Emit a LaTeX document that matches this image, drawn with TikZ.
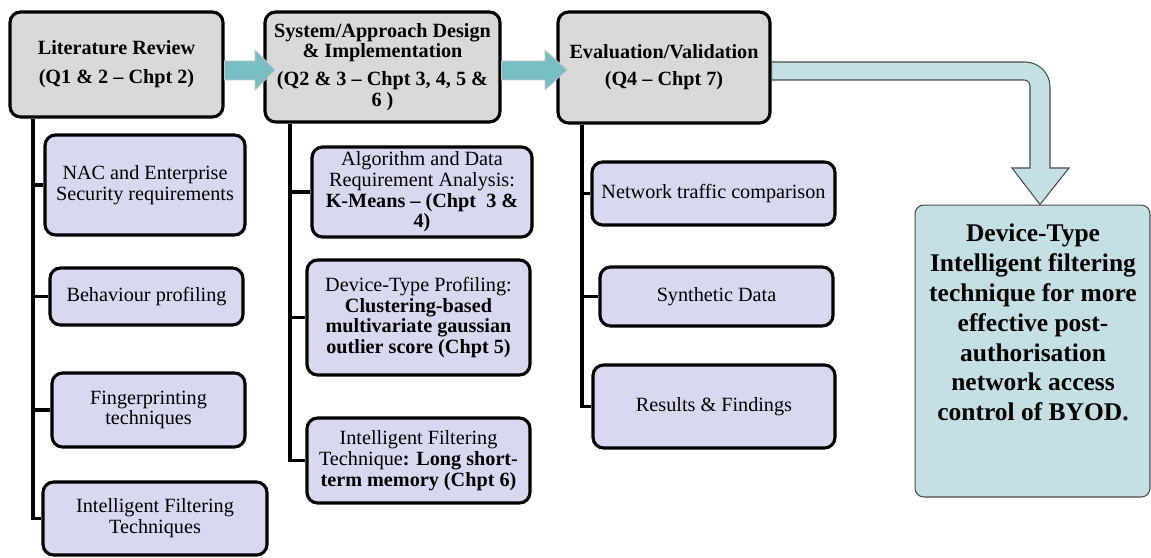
\documentclass[tikz,border=0pt]{standalone}
\usepackage{fontspec}
\setmainfont{LiberationSerif}[Extension=.ttf, UprightFont=*-Regular, BoldFont=*-Bold,
  ItalicFont=*-Italic, BoldItalicFont=*-BoldItalic]
\usepackage{xcolor}
\usepackage{tikz}
\usetikzlibrary{positioning,calc}

\definecolor{headgray}{RGB}{217,217,217}
\definecolor{lavender}{RGB}{216,216,240}
\definecolor{tealdark}{RGB}{120,190,196}
\definecolor{teallight}{RGB}{196,224,228}

\tikzset{
  phase/.style={draw=black, line width=1.8pt, fill=headgray, rounded corners=6pt,
    align=center, inner sep=2pt, font=\fontsize{11.5}{11.5}\selectfont\bfseries},
  task/.style={draw=black, line width=1.8pt, fill=lavender, rounded corners=6pt,
    align=center, inner sep=2pt, font=\fontsize{11.5}{11.8}\selectfont},
  tree/.style={line width=1.9pt, draw=black},
  flow/.style={fill=tealdark, draw=gray!45, line width=0.4pt},
  outflow/.style={fill=teallight, draw=black!70, line width=0.6pt},
  goalbox/.style={fill=teallight, draw=black!70, line width=0.6pt, rounded corners=5pt}
}

\begin{document}
\begin{tikzpicture}[x=0.02cm, y=-0.02cm]
    \useasboundingbox (0,0) rectangle (1151,557);

    % Phases
    \node[phase, minimum width=4.26cm, minimum height=2.1cm] (lit) at (116.5,64.5)
        {Literature Review\\[5pt](Q1 \& 2 – Chpt 2)};
    \node[phase, minimum width=4.7cm, minimum height=2.2cm] (design) at (382.5,67)
        {System/Approach Design\\\& Implementation\\[4.5pt](Q2 \& 3 – Chpt 3, 4, 5 \&\\6 )};
    \node[phase, minimum width=4.24cm, minimum height=2.22cm] (eval) at (664,67.5)
        {Evaluation/Validation\\[4pt](Q4 – Chpt 7)};

    % Literature review tasks
    \node[task, minimum width=4cm, minimum height=2cm] (nac) at (145,185)
        {NAC and Enterprise\\Security requirements};
    \node[task, minimum width=3.86cm, minimum height=1.14cm] (behav) at (146.5,296.5)
        {Behaviour profiling};
    \node[task, minimum width=3.86cm, minimum height=1.48cm] (finger) at (148.5,410)
        {Fingerprinting\\techniques};
    \node[task, minimum width=4.48cm, minimum height=1.46cm] (iftech) at (155,518.5)
        {Intelligent Filtering\\Techniques};

    % Design tasks
    \node[task, minimum width=4.4cm, minimum height=1.8cm] (kmeans) at (422,192)
        {Algorithm and Data\\Requirement Analysis:\\\textbf{K-Means – (Chpt~~3 \&}\\\textbf{4)}};
    \node[task, minimum width=4.46cm, minimum height=2.3cm] (profiling) at (418.5,317.5)
        {Device-Type Profiling:\\\textbf{Clustering-based}\\\textbf{multivariate gaussian}\\\textbf{outlier score (Chpt 5)}};
    \node[task, minimum width=4.46cm, minimum height=1.7cm] (lstm) at (418.5,460.5)
        {Intelligent Filtering\\Technique\textbf{: Long short-}\\\textbf{term memory (Chpt 6)}};

    % Evaluation tasks
    \node[task, minimum width=4.86cm, minimum height=1.26cm] (traffic) at (713.5,193.5)
        {Network traffic comparison};
    \node[task, minimum width=4.66cm, minimum height=1.18cm] (synth) at (716.5,296.5)
        {Synthetic Data};
    \node[task, minimum width=4.84cm, minimum height=1.66cm] (results) at (714,406.5)
        {Results \& Findings};

    % Tree lines
    \draw[tree] (lit.south -| 33,0) |- (iftech.west);
    \draw[tree] (33,0 |- nac.west) -- (nac.west);
    \draw[tree] (33,0 |- behav.west) -- (behav.west);
    \draw[tree] (33,0 |- finger.west) -- (finger.west);

    \draw[tree] (design.south -| 290,0) |- (lstm.west);
    \draw[tree] (290,0 |- kmeans.west) -- (kmeans.west);
    \draw[tree] (290,0 |- profiling.west) -- (profiling.west);

    \draw[tree] (eval.south -| 582,0) |- (results.west);
    \draw[tree] (582,0 |- traffic.west) -- (traffic.west);
    \draw[tree] (582,0 |- synth.west) -- (synth.west);

    % Block arrows between phases
    \draw[flow] (lit.east |- 0,61) -- (255,61) -- (255,50) -- (275,70) -- (255,90)
        -- (255,80) -- (lit.east |- 0,80) -- cycle;
    \draw[flow] (design.east |- 0,61) -- (545,61) -- (545,50) -- (567,70) -- (545,90)
        -- (545,80) -- (design.east |- 0,80) -- cycle;

    % Outcome
    \node[goalbox, minimum width=4.7cm, minimum height=5.84cm] (goal) at (1032.5,351) {};
    \node[align=center, font=\fontsize{14.5}{17}\selectfont\bfseries] (goaltext) at (1033,322.5)
        {Device-Type\\Intelligent filtering\\technique for more\\effective post-\\authorisation\\network access\\control of BYOD.};

    \draw[outflow] (eval.east |- 0,62) -- (1025,62) .. controls (1038.8,62) and (1050,73.2) .. (1050,87)
        -- (1050,168) -- (1069,168) -- (goal.north -| 1040,0) -- (1012,168) -- (1030,168)
        -- (1030,86) .. controls (1030,82.7) and (1027.3,80) .. (1024,80)
        -- (eval.east |- 0,80) -- cycle;
\end{tikzpicture}
\end{document}
